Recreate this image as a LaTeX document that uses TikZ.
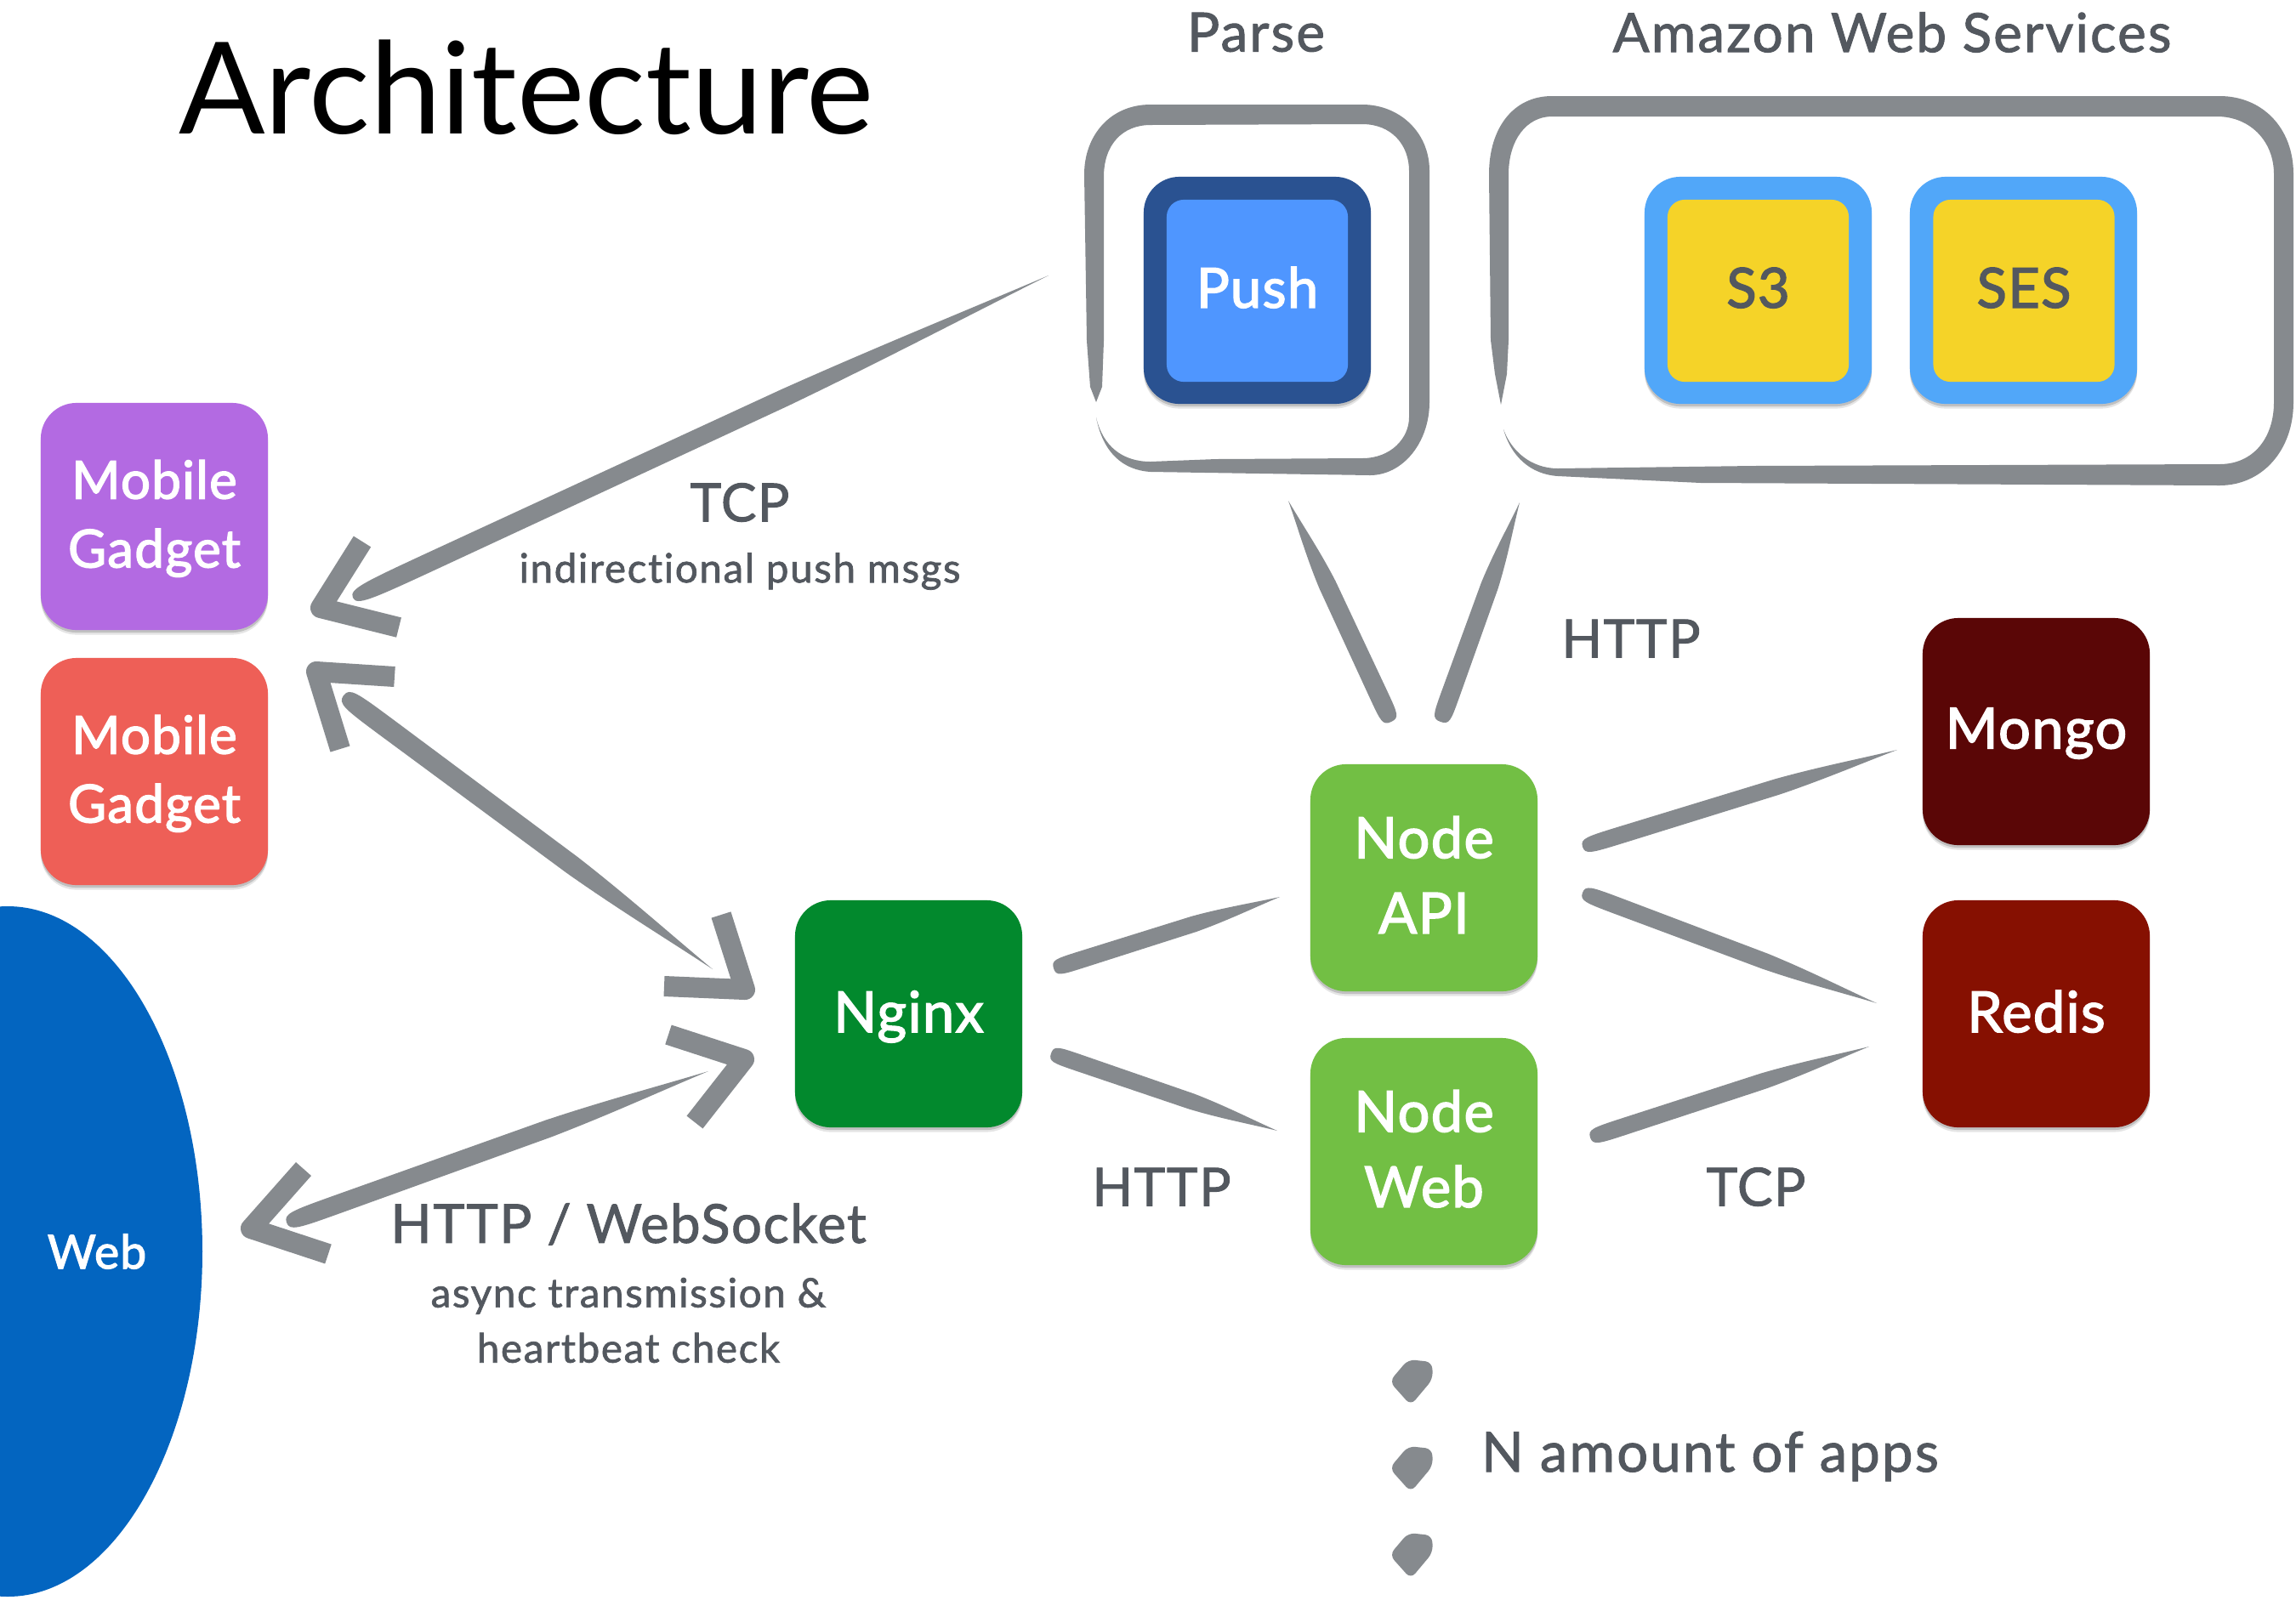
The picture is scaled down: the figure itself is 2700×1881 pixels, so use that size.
\documentclass[tikz,border=0pt]{standalone}
\usepackage{fontspec}
\setmainfont{Lato}
\usetikzlibrary{calc,shadows}
\definecolor{strokegray}{HTML}{868A8E}
\definecolor{labelgray}{HTML}{53585F}
\definecolor{cPurple}{HTML}{B36AE2}
\definecolor{cRed}{HTML}{EE5F57}
\definecolor{cNginx}{HTML}{02892D}
\definecolor{cNode}{HTML}{72BF44}
\definecolor{cMongo}{HTML}{5A0606}
\definecolor{cRedis}{HTML}{861001}
\definecolor{cPushOut}{HTML}{2A5291}
\definecolor{cPushIn}{HTML}{4F96FF}
\definecolor{cAwsOut}{HTML}{51A7F9}
\definecolor{cYellow}{HTML}{F5D328}
\definecolor{cWeb}{HTML}{0365C0}
\newfontfamily\boxfont[FakeBold=2.2,LetterSpace=2,Ligatures=NoCommon]{Lato}
\newfontfamily\medfont[FakeBold=1.5,LetterSpace=2.5,Ligatures=NoCommon]{Lato}
\newfontfamily\lightspaced[FakeBold=1.5,LetterSpace=3.5,Ligatures=NoCommon]{Lato}
\tikzset{
  softshadow/.style={
    drop shadow={shadow xshift=0pt,shadow yshift=-0.055cm,opacity=.10,fill=black},
    drop shadow={shadow xshift=0pt,shadow yshift=-0.03cm,opacity=.16,fill=black}},
  appbox/.style={rectangle,rounded corners=.42cm,minimum width=2.67cm,minimum height=2.67cm,inner sep=0pt,
    align=center,text=white,font=\fontsize{19}{23}\boxfont,softshadow},
  mobilebox/.style={appbox,font=\fontsize{17.6}{23}\boxfont},
  nodebox/.style={appbox,fill=cNode,font=\fontsize{19}{25.2}\boxfont},
  oneline/.style={text height=13.3pt,text depth=1pt},
  onelineup/.style={text height=13.3pt,text depth=2pt},
  innerbox/.style={rectangle,rounded corners=.2cm,minimum width=2.13cm,minimum height=2.14cm,inner sep=0pt,
    align=center,font=\fontsize{18.5}{23}\boxfont,onelineup},
  proto/.style={text=labelgray,font=\fontsize{17.7}{22}\medfont,inner sep=0pt},
  heading/.style={text=labelgray,font=\fontsize{18.1}{20}\lightspaced,inner sep=0pt},
  small/.style={text=labelgray,font=\fontsize{13.5}{18.5}\lightspaced,inner sep=0pt,align=center},
  chev/.style={draw=strokegray,line width=.24cm,line join=round},
  framefill/.style={fill=strokegray},
  blob/.style={fill=strokegray,rounded corners=.08cm},
}
% tapered brush stroke: round start #1, pointed end #2, half width #3 (px)
\newcommand{\brushstroke}[3]{%
  \pgfmathsetmacro\hF{#3*0.2845}%
  \pgfmathsetmacro\hB{#3*0.2845*0.95}%
  \pgfmathsetmacro\hD{#3*0.2845*0.8}%
  \pgfmathsetmacro\hC{#3*0.2845*0.3}%
  \fill[strokegray] (#1)
   .. controls ($(#1)!0!(#2)!\hF pt!90:(#2)$) and ($(#1)!.02!(#2)!\hF pt!90:(#2)$) .. ($(#1)!.12!(#2)!\hF pt!90:(#2)$)
   -- ($(#1)!.62!(#2)!\hB pt!90:(#2)$)
   .. controls ($(#1)!.76!(#2)!\hD pt!90:(#2)$) and ($(#1)!.88!(#2)!\hC pt!90:(#2)$) .. (#2)
   .. controls ($(#1)!.88!(#2)!\hC pt!-90:(#2)$) and ($(#1)!.76!(#2)!\hD pt!-90:(#2)$) .. ($(#1)!.62!(#2)!\hB pt!-90:(#2)$)
   -- ($(#1)!.12!(#2)!\hF pt!-90:(#2)$)
   .. controls ($(#1)!.02!(#2)!\hF pt!-90:(#2)$) and ($(#1)!0!(#2)!\hF pt!-90:(#2)$) .. (#1) -- cycle;%
}
\begin{document}
\begin{tikzpicture}[x=0.01cm,y=-0.01cm]
\useasboundingbox (0,0) rectangle (2700,1881);
\fill[white] (0,0) rectangle (2700,1881);
% title
\node[inner sep=0pt,font=\fontsize{42.7}{46}\selectfont,text=black] (title) at (619,103) {Architecture};
% web ellipse
\begin{scope}
\clip (0,0) rectangle (2700,1881);
\fill[cWeb] (9,1472) ellipse [x radius=229,y radius=406];
\end{scope}
\node[inner sep=0pt,text=white,font=\fontsize{15.7}{20}\boxfont] (web) at (114,1472) {Web};
% boxes
\node[mobilebox,fill=cPurple] (mobileA) at (181.5,607.5) {\rule{0pt}{14.3pt}Mobile\\Gadget};
\node[mobilebox,fill=cRed] (mobileB) at (181.5,907.5) {\rule{0pt}{14.3pt}Mobile\\Gadget};
\node[appbox,oneline,fill=cNginx] (nginx) at (1068.5,1192.5) {Nginx};
\node[nodebox] (nodeapi) at (1674.5,1032.5) {Node\\API\rule[-2pt]{0pt}{2pt}};
\node[nodebox] (nodeweb) at (1674.5,1354.5) {Node\\Web\rule[-2pt]{0pt}{2pt}};
\node[appbox,onelineup,fill=cMongo] (mongo) at (2394.5,860.5) {Mongo};
\node[appbox,oneline,fill=cRedis] (redis) at (2394.5,1192.5) {Redis};
\node[appbox,fill=cPushOut] (pushOuter) at (1478.5,341.5) {};
\node[innerbox,fill=cPushIn,text=white] (push) at (1478.5,342) {Push};
\node[appbox,fill=cAwsOut] (sOuter) at (2067.5,341.5) {};
\node[innerbox,fill=cYellow,text=labelgray] (s3) at (2067.5,342) {S3};
\node[appbox,fill=cAwsOut] (sesOuter) at (2379.5,341.5) {};
\node[innerbox,fill=cYellow,text=labelgray] (ses) at (2380,342) {SES};
% group frames
\fill[framefill] (1289,473) -- (1296,455) -- (1298,401) -- (1298,208)
  .. controls (1298,170) and (1320,147) .. (1353,147) -- (1602,146)
  .. controls (1636,146) and (1657,170) .. (1657,201) -- (1657,491)
  .. controls (1657,515) and (1636,539) .. (1602,539) -- (1430,540) -- (1353,543)
  .. controls (1320,543) and (1297,525) .. (1289,491)
  .. controls (1297,532) and (1320,553) .. (1353,555) -- (1611,559)
  .. controls (1650,559) and (1681,520) .. (1681,473) -- (1681,201)
  .. controls (1681,155) and (1645,123) .. (1602,123) -- (1353,123)
  .. controls (1305,123) and (1275,160) .. (1275,205) -- (1278,401) -- (1282,455) -- cycle;
\fill[framefill] (1765,476) -- (1772,440) -- (1774,400) -- (1774,205)
  .. controls (1774,165) and (1795,137) .. (1825,137) -- (2607,137)
  .. controls (2645,137) and (2674,165) .. (2674,205) -- (2674,473)
  .. controls (2674,515) and (2650,546) .. (2610,546) -- (2061,548) -- (1832,551)
  .. controls (1800,551) and (1777,530) .. (1768,505)
  .. controls (1777,537) and (1800,558) .. (1832,560) -- (2000,568) -- (2610,571)
  .. controls (2660,571) and (2697,530) .. (2697,473) -- (2697,205)
  .. controls (2697,150) and (2660,113) .. (2610,113) -- (1825,113)
  .. controls (1780,113) and (1751,150) .. (1751,205) -- (1753,400) -- (1758,440) -- cycle;
% free ends of the connectors
\coordinate (tcpPushEnd) at (1233,324);
\coordinate (tcpMobEnd) at (415,703);
\coordinate (hA1) at (426,637);\coordinate (hA) at (377,715);\coordinate (hA2) at (469,738);
\coordinate (wsMobEnd) at (404,818);
\coordinate (wsNgxEnd) at (838,1140);
\coordinate (hB1) at (464,796);\coordinate (hB) at (372,790);\coordinate (hB2) at (400,881);
\coordinate (hC1) at (781,1160);\coordinate (hC) at (876,1164);\coordinate (hC2) at (848,1076);
\coordinate (webNgxEnd) at (833,1260);
\coordinate (webWebEnd) at (337,1438);
\coordinate (hD1) at (786,1217);\coordinate (hD) at (875,1246);\coordinate (hD2) at (817,1320);
\coordinate (hE1) at (357,1375);\coordinate (hE) at (295,1445);\coordinate (hE2) at (386,1475);
\coordinate (ngxApiA) at (1239,1139);\coordinate (ngxApiB) at (1505,1055);
\coordinate (ngxWebA) at (1236,1239);\coordinate (ngxWebB) at (1502,1330);
\coordinate (apiMongoA) at (1861,996);\coordinate (apiMongoB) at (2231,882);
\coordinate (apiRedisA) at (1861,1050);\coordinate (apiRedisB) at (2207,1180);
\coordinate (webRedisA) at (1870,1338);\coordinate (webRedisB) at (2198,1231);
\coordinate (pushApiA) at (1636,849);\coordinate (pushApiB) at (1515,589);
\coordinate (awsApiA) at (1694,849);\coordinate (awsApiB) at (1787,591);
% connectors
\brushstroke{tcpMobEnd}{tcpPushEnd}{11}
\draw[chev] (hA1) -- (hA) -- (hA2);
\brushstroke{wsMobEnd}{wsNgxEnd}{12}
\draw[chev] (hB1) -- (hB) -- (hB2);
\draw[chev] (hC1) -- (hC) -- (hC2);
\brushstroke{webWebEnd}{webNgxEnd}{11}
\draw[chev] (hD1) -- (hD) -- (hD2);
\draw[chev] (hE1) -- (hE) -- (hE2);
\brushstroke{ngxApiA}{ngxApiB}{10}
\brushstroke{ngxWebA}{ngxWebB}{10}
\brushstroke{apiMongoA}{apiMongoB}{10}
\brushstroke{apiRedisA}{apiRedisB}{10}
\brushstroke{webRedisA}{webRedisB}{10}
\brushstroke{pushApiA}{pushApiB}{11}
\brushstroke{awsApiA}{awsApiB}{11}
% dots
\foreach \dy in {0,102,204}{
  \fill[blob,shift={(0,\dy)}] (1634,1625) -- (1656,1599) -- (1684,1602) -- (1685,1622) -- (1659,1653) -- cycle;
}
% labels
\node[heading] (parse) at (1477,38) {Parse};
\node[heading] (aws) at (2225,38) {Amazon Web Services};
\node[proto] (tcpA) at (870,591) {TCP};
\node[small] (tcpNote) at (870,672) {indirectional push msgs};
\node[proto] (httpA) at (1918,751) {HTTP};
\node[proto] (httpB) at (1366,1396) {HTTP};
\node[proto] (tcpB) at (2065,1396) {TCP};
\node[proto,font=\fontsize{18}{22}\medfont] (ws) at (739,1440) {HTTP / WebSocket};
\node[small] (wsNote) at (739,1553) {async transmission \&\\heartbeat check};
\node[proto,font=\fontsize{18.5}{22}\lightspaced] (napps) at (2011,1713) {N amount of apps};
\end{tikzpicture}
\end{document}
